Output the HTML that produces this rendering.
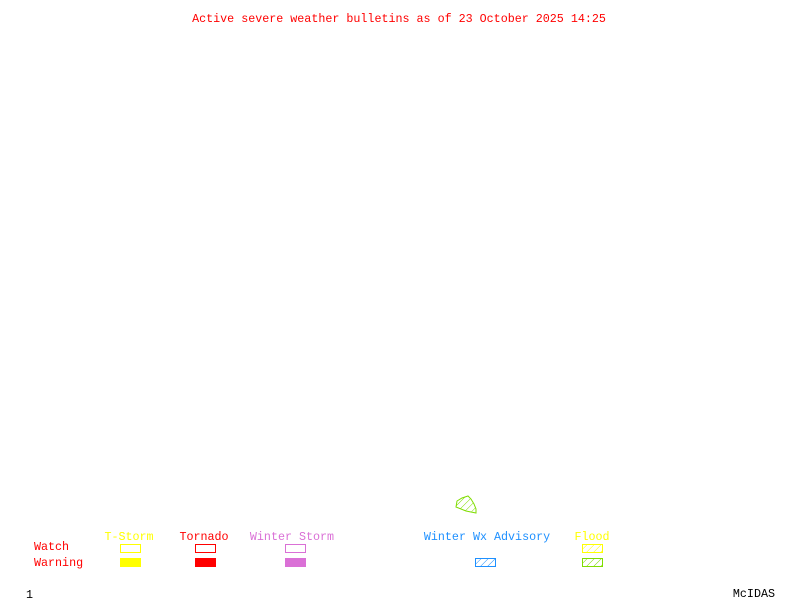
<!DOCTYPE html>
<html><head><style>
html,body{margin:0;padding:0;background:#fff;}
svg{display:block;}
text{font-family:"Liberation Mono",monospace;font-size:11.7px;}
</style></head><body>
<svg width="800" height="600" viewBox="0 0 800 600" xmlns="http://www.w3.org/2000/svg">
<defs>
<pattern id="hb" width="5" height="5" patternUnits="userSpaceOnUse" patternTransform="rotate(45)">
<line x1="0" y1="0" x2="0" y2="5" stroke="#1e90ff" stroke-width="1"/></pattern>
<pattern id="hy" width="5" height="5" patternUnits="userSpaceOnUse" patternTransform="rotate(45)">
<line x1="0" y1="0" x2="0" y2="5" stroke="#ffff00" stroke-width="1"/></pattern>
<pattern id="hg" width="5" height="5" patternUnits="userSpaceOnUse" patternTransform="rotate(45)">
<line x1="0" y1="0" x2="0" y2="5" stroke="#7fdd00" stroke-width="1"/></pattern>
</defs>
<text x="399" y="22" fill="#ff0000" text-anchor="middle">Active severe weather bulletins as of 23 October 2025 14:25</text>

<polygon points="456,507 457,501 462,498 468,496 471,499 474,504 476,509 476,513 471,512 466,511" fill="url(#hg)" stroke="#7fdd00" stroke-width="1"/>

<text x="34" y="550" fill="#ff0000">Watch</text>
<text x="34" y="566" fill="#ff0000">Warning</text>

<text x="129" y="540" fill="#ffff00" text-anchor="middle">T-Storm</text>
<rect x="120.5" y="544.5" width="20" height="8" fill="none" stroke="#ffff00"/>
<rect x="120" y="558" width="21" height="9" fill="#ffff00"/>

<text x="204" y="540" fill="#ff0000" text-anchor="middle">Tornado</text>
<rect x="195.5" y="544.5" width="20" height="8" fill="none" stroke="#ff0000"/>
<rect x="195" y="558" width="21" height="9" fill="#ff0000"/>

<text x="292" y="540" fill="#da70d6" text-anchor="middle">Winter Storm</text>
<rect x="285.5" y="544.5" width="20" height="8" fill="none" stroke="#da70d6"/>
<rect x="285" y="558" width="21" height="9" fill="#da70d6"/>

<text x="487" y="540" fill="#1e90ff" text-anchor="middle">Winter Wx Advisory</text>
<rect x="475.5" y="558.5" width="20" height="8" fill="url(#hb)" stroke="#1e90ff"/>

<text x="592" y="540" fill="#ffff00" text-anchor="middle">Flood</text>
<rect x="582.5" y="544.5" width="20" height="8" fill="url(#hy)" stroke="#ffff00"/>
<rect x="582.5" y="558.5" width="20" height="8" fill="url(#hg)" stroke="#7fdd00"/>

<text x="26" y="598" fill="#000">1</text>
<text x="775" y="597" fill="#000" text-anchor="end">McIDAS</text>
</svg>
</body></html>
